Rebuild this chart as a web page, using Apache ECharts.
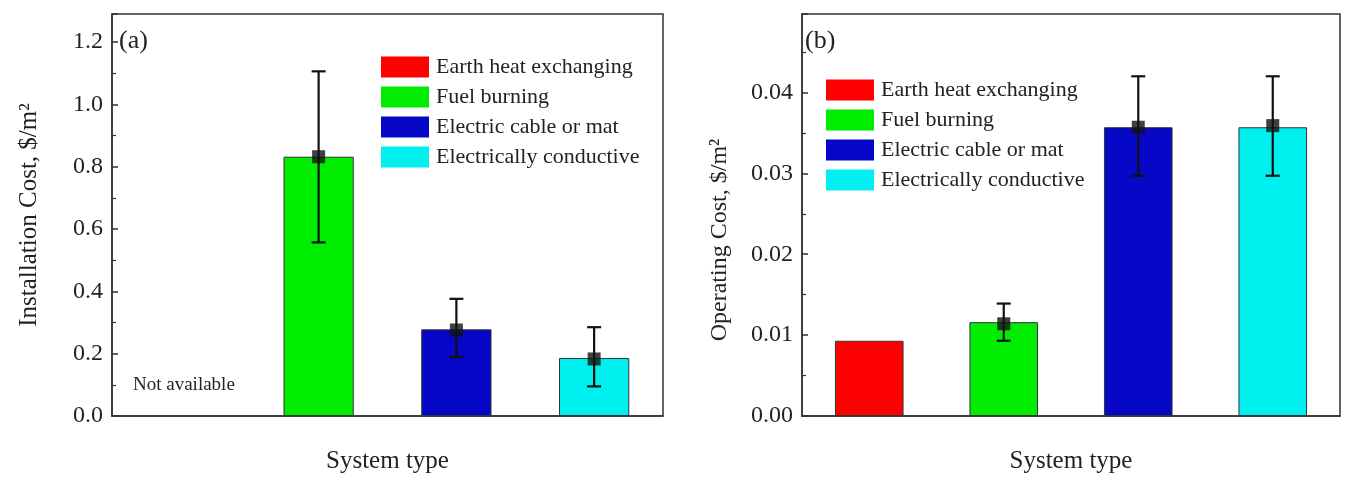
<!DOCTYPE html>
<html>
<head>
<meta charset="utf-8">
<script src="https://cdn.jsdelivr.net/npm/echarts@6/dist/echarts.min.js"></script>
<style>
  html, body { margin: 0; padding: 0; background: #fff; overflow: hidden; }
  #main { width: 1357px; height: 479px; }
</style>
</head>
<body>
<div id="main"></div>
<script>
// categories (system types)
var categories = ['Earth heat exchanging', 'Fuel burning', 'Electric cable or mat', 'Electrically conductive'];
var colors = ['#ff0000', '#00ec00', '#0707c8', '#00f0f0'];

// (a) installation cost, $/m2  (earth heat exchanging: not available)
var installCost = [null, 0.832, 0.278, 0.186];
var installMean = [null, 0.832, 0.276, 0.183];
var installLow = [null, 0.557, 0.189, 0.095];
var installHigh = [null, 1.106, 0.376, 0.285];

// (b) operating cost, $/m2
var operCost = [0.0093, 0.0116, 0.0357, 0.0357];
var operMean = [null, 0.0114, 0.0357, 0.0359];
var operLow = [null, 0.0093, 0.0297, 0.0297];
var operHigh = [null, 0.0139, 0.0420, 0.0420];

var serif = 'Liberation Serif';
var ink = '#222';

var myChart = echarts.init(document.getElementById('main'));

function xAxes(gridIndex) {
    var base = {
        type: 'category',
        data: categories,
        gridIndex: gridIndex,
        position: 'bottom',
        boundaryGap: true,
        axisLabel: { show: false },
        splitLine: { show: false }
    };
    return [
        Object.assign({}, base, {
            axisLine: { lineStyle: { color: '#333', width: 1.5 } },
            axisTick: { inside: true, length: 6, alignWithLabel: false, lineStyle: { color: '#333', width: 1.5 } },
            name: 'System type',
            nameLocation: 'middle',
            nameGap: 33,
            nameTextStyle: { fontFamily: serif, fontSize: 25, color: ink }
        }),
        Object.assign({}, base, {
            axisLine: { show: false },
            axisTick: { inside: true, length: 6, alignWithLabel: true, lineStyle: { color: '#333', width: 1.5 } }
        })
    ];
}

function yAxis(gridIndex, max, interval, digits, name, nameFont, namePad) {
    return {
        type: 'value',
        gridIndex: gridIndex,
        min: 0,
        max: max,
        interval: interval,
        name: name,
        nameLocation: 'middle',
        nameGap: 70,
        nameTextStyle: { fontFamily: serif, fontSize: nameFont, color: ink, padding: namePad },
        axisLine: { show: true, lineStyle: { color: '#333', width: 1.5 } },
        axisTick: { show: true, inside: true, length: 6, lineStyle: { color: '#333', width: 1.5 } },
        minorTick: { show: true, splitNumber: 2, length: 4, lineStyle: { color: '#333', width: 1.2 } },
        splitLine: { show: false },
        axisLabel: {
            showMaxLabel: false,
            fontFamily: serif, fontSize: 24, color: ink, margin: 9,
            formatter: function (v) { return v.toFixed(digits); }
        }
    };
}

var series = [];

function addPanel(g, values, mean, low, high) {
    var xi = g * 2;
    categories.forEach(function (name, i) {
        series.push({
            name: name,
            type: 'bar',
            xAxisIndex: xi,
            yAxisIndex: g,
            stack: 'panel' + g,
            barWidth: '51%',
            itemStyle: { color: colors[i], borderColor: '#333', borderWidth: 1 },
            data: values.map(function (v, j) { return j === i && v != null ? v : '-'; })
        });
    });
    var errData = [];
    var markData = [];
    for (var i = 0; i < categories.length; i++) {
        if (low[i] != null) errData.push([i, low[i], high[i]]);
        if (mean[i] != null) markData.push([i, mean[i]]);
    }
    series.push({
        type: 'custom',
        xAxisIndex: xi,
        yAxisIndex: g,
        z: 5,
        encode: { x: 0, y: [1, 2] },
        data: errData,
        renderItem: function (params, api) {
            var x = api.value(0);
            var lo = api.coord([x, api.value(1)]);
            var hi = api.coord([x, api.value(2)]);
            var w = 7;
            var st = { stroke: '#111', lineWidth: 2.2 };
            return {
                type: 'group',
                children: [
                    { type: 'line', shape: { x1: lo[0], y1: lo[1], x2: hi[0], y2: hi[1] }, style: st },
                    { type: 'line', shape: { x1: hi[0] - w, y1: hi[1], x2: hi[0] + w, y2: hi[1] }, style: st },
                    { type: 'line', shape: { x1: lo[0] - w, y1: lo[1], x2: lo[0] + w, y2: lo[1] }, style: st }
                ]
            };
        }
    });
    series.push({
        type: 'scatter',
        xAxisIndex: xi,
        yAxisIndex: g,
        z: 6,
        symbol: 'rect',
        symbolSize: 13,
        itemStyle: { color: '#111' },
        data: markData
    });
}

addPanel(0, installCost, installMean, installLow, installHigh);
addPanel(1, operCost, operMean, operLow, operHigh);

var legendBase = {
    orient: 'vertical',
    icon: 'rect',
    padding: 0,
    itemWidth: 48,
    itemHeight: 21,
    itemGap: 8,
    selectedMode: false,
    data: categories,
    itemStyle: { borderWidth: 0 },
    textStyle: { fontFamily: serif, fontSize: 22, lineHeight: 21, color: ink, padding: [0, 0, 0, 2] }
};

var option = {
    backgroundColor: '#fff',
    animation: false,
    textStyle: { fontFamily: serif },
    grid: [
        { left: 112, top: 14, right: 694, bottom: 57, show: true, borderColor: '#333', borderWidth: 1.5 },
        { left: 802, top: 14, right: 17, bottom: 59, show: true, borderColor: '#333', borderWidth: 1.5 }
    ],
    legend: [
        Object.assign({}, legendBase, { left: 381, top: 56 }),
        Object.assign({}, legendBase, { left: 826, top: 79 })
    ],
    xAxis: xAxes(0).concat(xAxes(1)),
    yAxis: [
        yAxis(0, 1.29, 0.2, 1, 'Installation Cost, $/m²', 25, 0),
        yAxis(1, 0.0497, 0.01, 2, 'Operating Cost, $/m²', 24, [0, 50, 0, 0])
    ],
    graphic: [
        { type: 'text', left: 119, top: 28, style: { text: '(a)', font: '26px "Liberation Serif"', fill: ink } },
        { type: 'text', left: 805, top: 28, style: { text: '(b)', font: '26px "Liberation Serif"', fill: ink } },
        { type: 'text', left: 133, top: 376, style: { text: 'Not available', font: '19px "Liberation Serif"', fill: ink } }
    ],
    series: series
};

myChart.setOption(option);

window.addEventListener('resize', function () {
    myChart.resize();
});
</script>
</body>
</html>
